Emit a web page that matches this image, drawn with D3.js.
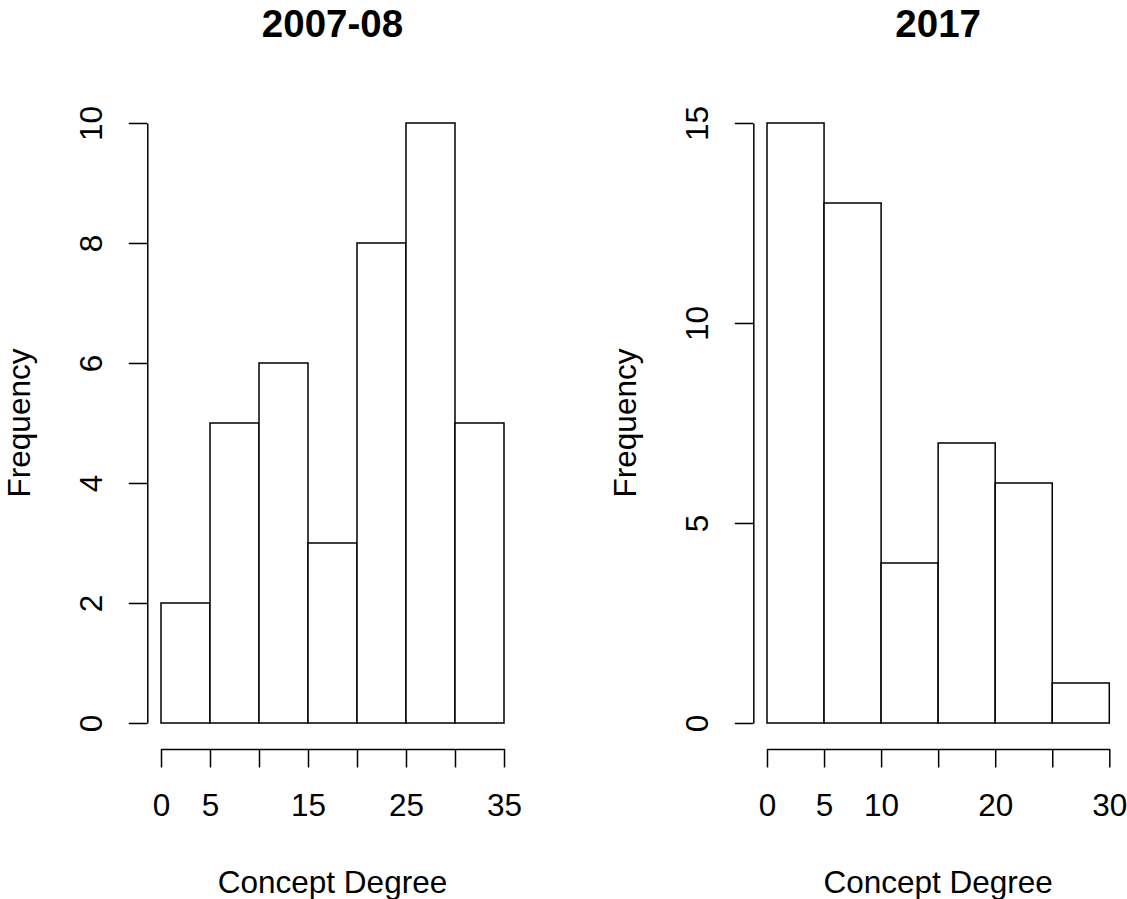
<!DOCTYPE html>
<html>
<head>
<meta charset="utf-8">
<script src="https://cdn.jsdelivr.net/npm/d3@7"></script>
<style>
  html, body { margin: 0; padding: 0; background: #fff; }
  svg { display: block; }
  text { font-family: "Liberation Sans", Arial, sans-serif; fill: #000; }
</style>
</head>
<body>
<svg id="chart" width="1127" height="899"></svg>
<script>
// ---- Data ----
const titles = ["2007-08", "2017"];
const breaks1 = [0, 5, 10, 15, 20, 25, 30, 35];
const counts1 = [2, 5, 6, 3, 8, 10, 5];
const xTicks1 = [0, 5, 10, 15, 20, 25, 30, 35];
const xLabels1 = [0, 5, 15, 25, 35];
const yTicks1 = [0, 2, 4, 6, 8, 10];

const breaks2 = [0, 5, 10, 15, 20, 25, 30];
const counts2 = [15, 13, 4, 7, 6, 1];
const xTicks2 = [0, 5, 10, 15, 20, 25, 30];
const xLabels2 = [0, 5, 10, 20, 30];
const yTicks2 = [0, 5, 10, 15];

const xTitle = "Concept Degree";
const yTitle = "Frequency";

// ---- Layout ----
const svg = d3.select("#chart");
const FS = 31.5, TFS = 38.5, LW = 1.5, TICK = 18.5;

const panels = [
  { title: titles[0], breaks: breaks1, counts: counts1, xTicks: xTicks1, xLabels: xLabels1, yTicks: yTicks1,
    xRange: [161, 504], yRange: [723, 123] },
  { title: titles[1], breaks: breaks2, counts: counts2, xTicks: xTicks2, xLabels: xLabels2, yTicks: yTicks2,
    xRange: [767, 1109.3], yRange: [723, 123] }
];

panels.forEach(p => {
  const xMin = p.breaks[0], xMax = p.breaks[p.breaks.length - 1];
  const yMax = p.yTicks[p.yTicks.length - 1];
  const x = d3.scaleLinear().domain([xMin, xMax]).range(p.xRange);
  const y = d3.scaleLinear().domain([0, yMax]).range(p.yRange);
  const ext = (xMax - xMin) * 0.04;
  const plotLeft = x(xMin - ext), plotRight = x(xMax + ext);
  const axisY = y(0) + 26;
  const g = svg.append("g");

  // bars
  const bins = p.counts.map((c, i) => ({ x0: p.breaks[i], x1: p.breaks[i + 1], c }));
  g.selectAll("rect.bar").data(bins).join("rect")
    .attr("class", "bar")
    .attr("x", d => x(d.x0))
    .attr("y", d => y(d.c))
    .attr("width", d => x(d.x1) - x(d.x0))
    .attr("height", d => y(0) - y(d.c))
    .attr("fill", "#fff")
    .attr("stroke", "#000")
    .attr("stroke-width", LW);

  // x axis
  const xa = d3.axisBottom(x)
    .tickValues(p.xTicks)
    .tickSize(TICK)
    .tickSizeOuter(0)
    .tickPadding(0)
    .tickFormat(d => p.xLabels.includes(d) ? String(d) : "");
  const gx = g.append("g").attr("transform", `translate(0,${axisY})`).call(xa);
  gx.selectAll("path, line").attr("stroke", "#000").attr("stroke-width", LW);
  gx.selectAll("text").attr("y", 0).attr("dy", 0)
    .attr("transform", `translate(0,${816 - axisY})`)
    .style("font-size", FS + "px").attr("font-family", null);

  // y axis
  const ya = d3.axisLeft(y)
    .tickValues(p.yTicks)
    .tickSize(TICK)
    .tickSizeOuter(0)
    .tickFormat(d3.format("d"));
  const gy = g.append("g").attr("transform", `translate(${plotLeft},0)`).call(ya);
  gy.selectAll("path, line").attr("stroke", "#000").attr("stroke-width", LW);
  gy.selectAll("text").attr("x", 0).attr("dy", 0)
    .attr("transform", "translate(-45,0) rotate(-90)")
    .attr("text-anchor", "middle")
    .style("font-size", FS + "px").attr("font-family", null);
  svg.selectAll(".domain").attr("fill", "none");

  const cx = (plotLeft + plotRight) / 2;
  const cy = (y(0) + 26 + y(yMax) - 26) / 2;

  // title
  g.append("text")
    .attr("x", cx).attr("y", 37)
    .attr("text-anchor", "middle")
    .style("font-size", TFS + "px").style("font-weight", "bold")
    .text(p.title);

  // x label
  g.append("text")
    .attr("x", cx).attr("y", 893)
    .attr("text-anchor", "middle")
    .style("font-size", FS + "px")
    .text(xTitle);

  // y label
  g.append("text")
    .attr("transform", `translate(${plotLeft - 117},${cy}) rotate(-90)`)
    .attr("text-anchor", "middle")
    .style("font-size", FS + "px")
    .text(yTitle);
});
</script>
</body>
</html>
